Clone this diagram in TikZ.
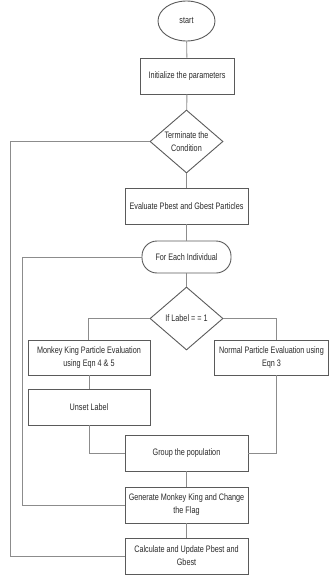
\documentclass[tikz,border=0pt]{standalone}
\usepackage{fontspec}
\setmainfont[FakeStretch=0.77]{Liberation Sans}
\usetikzlibrary{shapes.geometric,calc}
\definecolor{boxline}{HTML}{5A5A5A}
\definecolor{conline}{HTML}{8C8C8C}
\definecolor{txt}{HTML}{2A2A2A}
\begin{document}
\begin{tikzpicture}[x=1pt,y=1pt,
  every node/.style={font=\fontsize{9.4}{13}\selectfont, text=txt, align=center, inner sep=1pt},
  procbox/.style={draw=boxline, line width=0.9pt, rectangle, minimum width=123, minimum height=36},
  decbox/.style={draw=boxline, line width=0.9pt, diamond, minimum width=73, minimum height=63, aspect=1.16, inner sep=0pt},
  conn/.style={draw=conline, line width=0.9pt}]
\useasboundingbox (0,0) rectangle (329,-575);
\node[draw=boxline, line width=0.9pt, ellipse, minimum width=57, minimum height=40] (start) at (186.5,-21) {start};
\node[procbox, minimum width=94] (init) at (187,-76) {Initialize the parameters};
\node[decbox] (term) at (186.5,-141.5) {Terminate the\\Condition};
\node[procbox] (eval) at (186.5,-206) {Evaluate Pbest and Gbest Particles};
\node[draw=boxline, line width=0.9pt, rectangle, rounded corners=15, minimum width=89, minimum height=32] (each) at (186.5,-257) {For Each Individual};
\node[decbox] (iflab) at (186.5,-318.5) {If Label = = 1};
\node[procbox, minimum width=122, minimum height=35] (monkey) at (89,-357.5) {Monkey King Particle Evaluation\\using Eqn 4 \& 5};
\node[procbox, minimum width=114, minimum height=35] (normal) at (271.5,-357.5) {Normal Particle Evaluation using\\Eqn 3};
\node[procbox, minimum width=122] (unset) at (89,-407) {Unset Label};
\node[procbox] (group) at (186.5,-453) {Group the population};
\node[procbox] (gen) at (186.5,-505) {Generate Monkey King and Change\\the Flag};
\node[procbox] (calc) at (186.5,-556) {Calculate and Update Pbest and\\Gbest};
\coordinate (nr) at (276,-340);
\coordinate (ml) at (88,-340);
\coordinate (tl) at (10,-141.5);
\coordinate (el) at (22,-257);
\draw[conn] (start) -- (init);
\draw[conn] (init) -- (term);
\draw[conn] (term) -- (eval);
\draw[conn] (eval) -- (each);
\draw[conn] (each) -- (iflab);
\draw[conn] (iflab.west) -| (ml);
\draw[conn] (iflab.east) -| (nr);
\draw[conn] (monkey) -- (unset);
\draw[conn] (unset.south) |- (group.west);
\draw[conn] (nr |- normal.south) |- (group.east);
\draw[conn] (group) -- (gen);
\draw[conn] (gen) -- (calc);
\draw[conn] (term.west) -- (tl) |- (calc.west);
\draw[conn] (each.west) -- (el) |- (gen.west);
\end{tikzpicture}
\end{document}
